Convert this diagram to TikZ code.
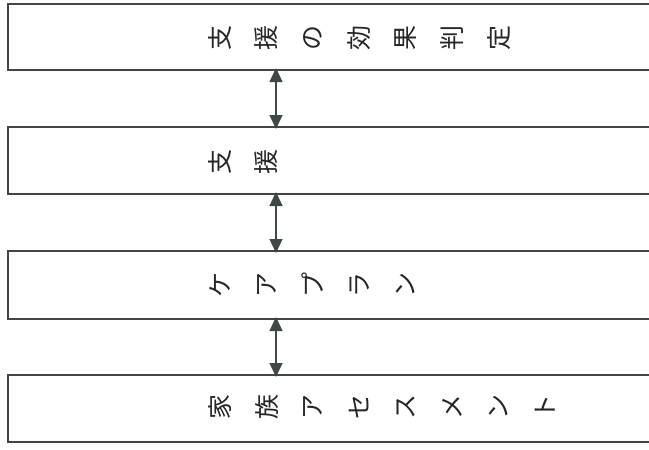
\documentclass[tikz,border=0pt]{standalone}
\usepackage{fontspec}
\newfontfamily\jpfont{Noto Sans CJK JP}
\usetikzlibrary{arrows.meta}
\definecolor{lineg}{HTML}{454545}
\definecolor{arrg}{HTML}{3F4944}
\tikzset{
  box/.style={draw=lineg, line width=2pt, rectangle, minimum width=662pt, inner sep=0pt},
  ch/.style={rotate=90, inner sep=0pt, font=\jpfont\fontsize{25}{25}\selectfont, text=black!85},
  link/.style={draw=arrg, line width=1.2pt, {Triangle[width=13pt,length=14pt]}-{Triangle[width=13pt,length=14pt]}, arrg, shorten <=-3pt, shorten >=-3pt}
}
\begin{document}
\begin{tikzpicture}[x=1pt,y=-1pt]
\useasboundingbox (0,0) rectangle (649,450);
\clip (0,0) rectangle (649,450);
\fill[white] (0,0) rectangle (649,450);
\node[box, minimum height=66pt] (b1) at (339,37) {};
\node[box, minimum height=67pt] (b2) at (339,160.5) {};
\node[box, minimum height=68pt] (b3) at (339,285) {};
\node[box, minimum height=67pt] (b4) at (339,408.5) {};
\coordinate (ax) at (276,0);
\foreach \c [count=\i] in {支,援,の,効,果,判,定}
  \node[ch] (ta\i) at ({220+46.5*(\i-1)},38) {\c};
\foreach \c [count=\i] in {支,援}
  \node[ch] (tb\i) at ({220+46.5*(\i-1)},162) {\c};
\foreach \c [count=\i] in {ケ,ア,プ,ラ,ン}
  \node[ch] (tc\i) at ({220+46.5*(\i-1)},285) {\c};
\foreach \c [count=\i] in {家,族,ア,セ,ス,メ,ン,ト}
  \node[ch] (td\i) at ({220+46.5*(\i-1)},407) {\c};
\draw[link] (b1.south -| ax) -- (b2.north -| ax);
\draw[link] (b2.south -| ax) -- (b3.north -| ax);
\draw[link] (b3.south -| ax) -- (b4.north -| ax);
\end{tikzpicture}
\end{document}
